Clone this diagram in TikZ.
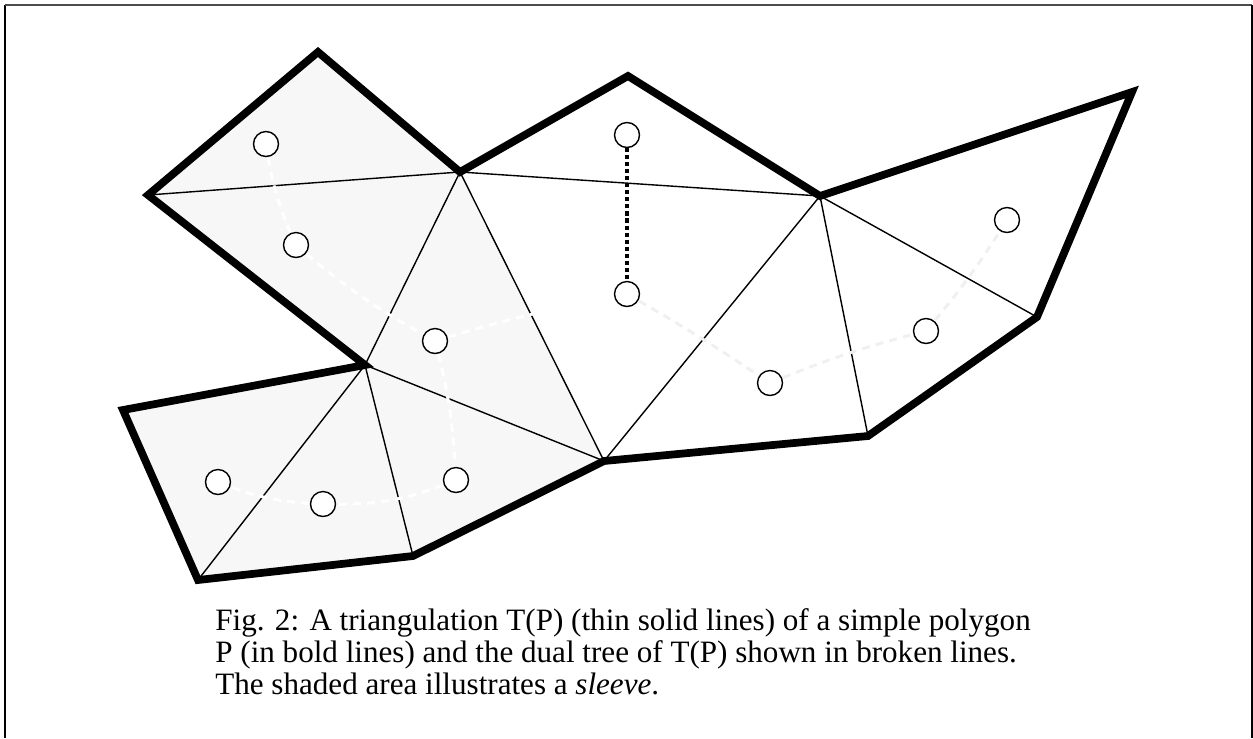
\documentclass[tikz,border=0pt]{standalone}
\usepackage{fontspec}
\setmainfont{Liberation Serif}
\begin{document}
\begin{tikzpicture}[x=0.02cm,y=-0.02cm,
  boundary/.style={line width=4.4pt,line join=miter,draw=black},
  diag/.style={line width=0.8pt,draw=black},
  sleevefill/.style={fill=black!3},
  dualnode/.style={circle,draw=black,fill=white,line width=0.8pt,minimum size=0.5cm,inner sep=0pt},
  dualin/.style={draw=white,line width=1.7pt,dash pattern=on 4.5pt off 3.5pt},
  dualout/.style={draw=black!6,line width=1.7pt,dash pattern=on 4.5pt off 3.5pt},
  dualdot/.style={draw=black,line width=2.2pt,dash pattern=on 2.3pt off 1.7pt},
  caption/.style={font=\fontsize{17.7}{18.2}\selectfont,align=left,inner sep=0pt}]
\useasboundingbox (0,0) rectangle (1253,738);
% page frame
\draw[black,line width=1.2pt] (5,738) -- (5,5);
\draw[black!70,line width=1.2pt] (5,5) -- (1252,5);
\draw[black,line width=1.2pt] (1252,5) -- (1252,738);

% polygon vertices
\coordinate (A) at (318,52);
\coordinate (B) at (148,195);
\coordinate (C) at (460,172);
\coordinate (D) at (628,76);
\coordinate (E) at (820,196);
\coordinate (F) at (1132,92);
\coordinate (G) at (1037,317);
\coordinate (H) at (868,436);
\coordinate (I) at (604,461);
\coordinate (J) at (413,556);
\coordinate (K) at (198,580);
\coordinate (L) at (123,410);
\coordinate (M) at (365,365);

% the sleeve
\fill[sleevefill] (A) -- (C) -- (I) -- (J) -- (K) -- (L) -- (M) -- (B) -- cycle;

% diagonals of the triangulation
\draw[diag] (B) -- (C) (C) -- (M) (C) -- (I) (C) -- (E) (E) -- (I)
  (E) -- (H) (E) -- (G) (M) -- (I) (M) -- (J) (M) -- (K);

% dual tree vertices (one per triangle)
\coordinate (c1p) at (266,144);
\coordinate (c2p) at (296,245);
\coordinate (c3p) at (435,341);
\coordinate (c4p) at (627,135);
\coordinate (c5p) at (627,294);
\coordinate (c6p) at (770,383);
\coordinate (c7p) at (926,331);
\coordinate (c8p) at (1007,220);
\coordinate (c9p) at (456,480);
\coordinate (c10p) at (323,504);
\coordinate (c11p) at (218,482);

% dual tree edges
\draw[dualin] (c1p) to[bend right=8] (c2p);
\draw[dualin] (c2p) to[bend right=6] (c3p);
\draw[dualin] (c3p) to[bend left=3] (c5p);
\draw[dualin] (c3p) to[bend left=6] (c9p);
\draw[dualin] (c9p) to[bend left=12] (c10p);
\draw[dualin] (c10p) to[bend left=10] (c11p);
\draw[dualout] (c5p) to[bend left=2] (c6p);
\draw[dualout] (c6p) to[bend left=4] (c7p);
\draw[dualout] (c7p) to[bend right=4] (c8p);

% boundary of P
\draw[boundary] (A) -- (C) -- (D) -- (E) -- (F) -- (G) -- (H) -- (I)
  -- (J) -- (K) -- (L) -- (M) -- (B) -- cycle;

% dual tree nodes
\foreach \n in {1,...,11} \node[dualnode] (c\n) at (c\n p) {};
\draw[dualdot] (c4) -- (c5);

% caption
\node[caption,anchor=north west] (cap) at (215,608) {Fig. 2: A triangulation T(P) (thin solid lines) of a simple polygon\\
P (in bold lines) and the dual tree of T(P) shown in broken lines.\\
The shaded area illustrates a \textit{sleeve}.};
\end{tikzpicture}
\end{document}
